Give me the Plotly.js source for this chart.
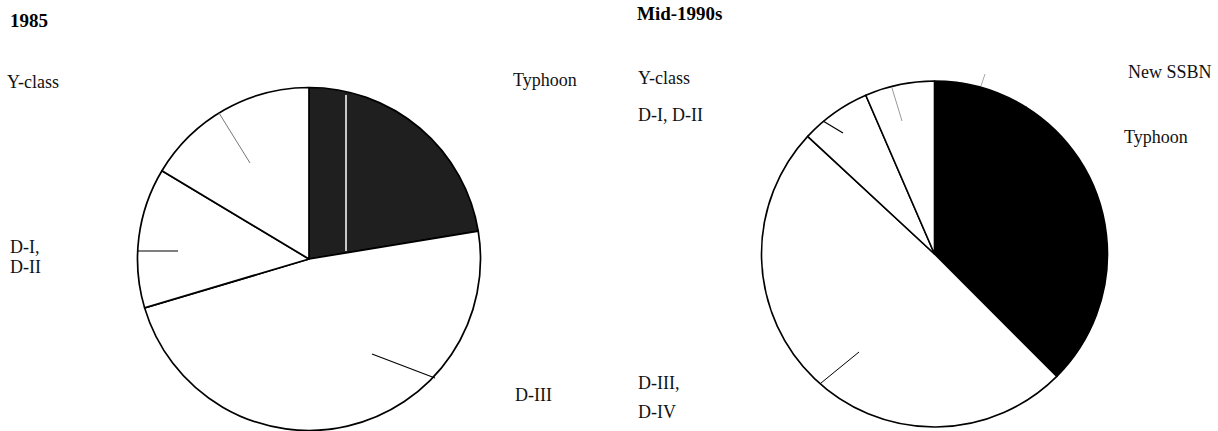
<!DOCTYPE html>
<html>
<head>
<meta charset="utf-8">
<script src="https://cdn.plot.ly/plotly-3.0.1.min.js"></script>
<style>
  html, body { margin: 0; padding: 0; background: #fff; overflow: hidden; }
  #chart { width: 1218px; height: 431px; }
</style>
</head>
<body>
<div id="chart"></div>
<script>
// ---- Data (shares of the force, %) ----
const labels1985 = ["Typhoon", "D-III", "D-I, D-II", "Y-class"];
const values1985 = [22.4, 48.0, 13.2, 16.4];
const colors1985 = ["#1f1f1f", "#ffffff", "#ffffff", "#ffffff"];

const labels1990s = ["New SSBN", "Typhoon", "D-III, D-IV", "D-I, D-II", "Y-class"];
const values1990s = [8.9, 28.6, 49.4, 6.6, 6.5];
const colors1990s = ["#000000", "#000000", "#ffffff", "#ffffff", "#ffffff"];

const panelTitles = ["1985", "Mid-1990s"];

// ---- Layout helpers (pixel -> paper) ----
const W = 1218, H = 431;
const px = x => x / W;
const py = y => 1 - y / H;

const serif = "Liberation Serif, Times New Roman, serif";

const traces = [
  {
    type: "pie",
    labels: labels1985,
    values: values1985,
    sort: false,
    direction: "clockwise",
    rotation: 0,
    textinfo: "none",
    hoverinfo: "label+percent",
    marker: { colors: colors1985, line: { color: "#000", width: 1.7 } },
    domain: { x: [px(137.5), px(480.5)], y: [py(430.5), py(87.5)] },
    showlegend: false
  },
  {
    type: "pie",
    labels: labels1990s,
    values: values1990s,
    sort: false,
    direction: "clockwise",
    rotation: 0,
    textinfo: "none",
    hoverinfo: "label+percent",
    marker: { colors: colors1990s, line: { color: "#000", width: 1.6 } },
    domain: { x: [px(761.5), px(1107.5)], y: [py(427), py(81)] },
    showlegend: false
  }
];

function label(text, x, y, opts) {
  opts = opts || {};
  return {
    text: text, xref: "paper", yref: "paper",
    x: px(x), y: py(y), xanchor: "left", yanchor: "middle",
    showarrow: false,
    font: { family: serif, size: opts.size || 18, color: opts.color || "#111" }
  };
}

const annotations = [
  label("<b>" + panelTitles[0] + "</b>", 8, 20, { size: 19, color: "#000" }),
  label("<b>" + panelTitles[1] + "</b>", 635, 13, { size: 19, color: "#000" }),
  // 1985 labels
  label(labels1985[3], 5, 82),
  label(labels1985[0], 511, 80),
  label("D-I,", 8, 247),
  label("D-II", 8, 267),
  label(labels1985[1], 513, 395),
  // Mid-1990s labels
  label(labels1990s[4], 636, 78),
  label(labels1990s[3], 636, 115),
  label(labels1990s[0], 1126, 72),
  label(labels1990s[1], 1122, 137),
  label("D-III,", 636, 383),
  label("D-IV", 636, 412)
];

function seg(x0, y0, x1, y1, color, width) {
  return {
    type: "line", xref: "paper", yref: "paper",
    x0: px(x0), y0: py(y0), x1: px(x1), y1: py(y1),
    line: { color: color, width: width }
  };
}

const shapes = [
  // scan streak inside the 1985 Typhoon slice
  seg(346, 95, 346, 251, "#ffffff", 1.5),
  // leader lines, 1985
  seg(219, 113, 250, 163, "#777", 1),
  seg(137, 251, 178, 251, "#000", 1.2),
  seg(372, 354, 435, 378, "#000", 1.2),
  // leader lines, mid-1990s
  seg(892, 88, 902, 121, "#999", 1),
  seg(823, 121, 843, 133, "#000", 1.2),
  seg(859, 352, 821, 383, "#000", 1),
  seg(985, 74, 981, 86, "#aaa", 1)
];

const layout = {
  width: W, height: H,
  margin: { l: 0, r: 0, t: 0, b: 0 },
  paper_bgcolor: "#fff",
  plot_bgcolor: "#fff",
  showlegend: false,
  annotations: annotations,
  shapes: shapes
};

Plotly.newPlot("chart", traces, layout, { displayModeBar: false, staticPlot: true });
</script>
</body>
</html>
